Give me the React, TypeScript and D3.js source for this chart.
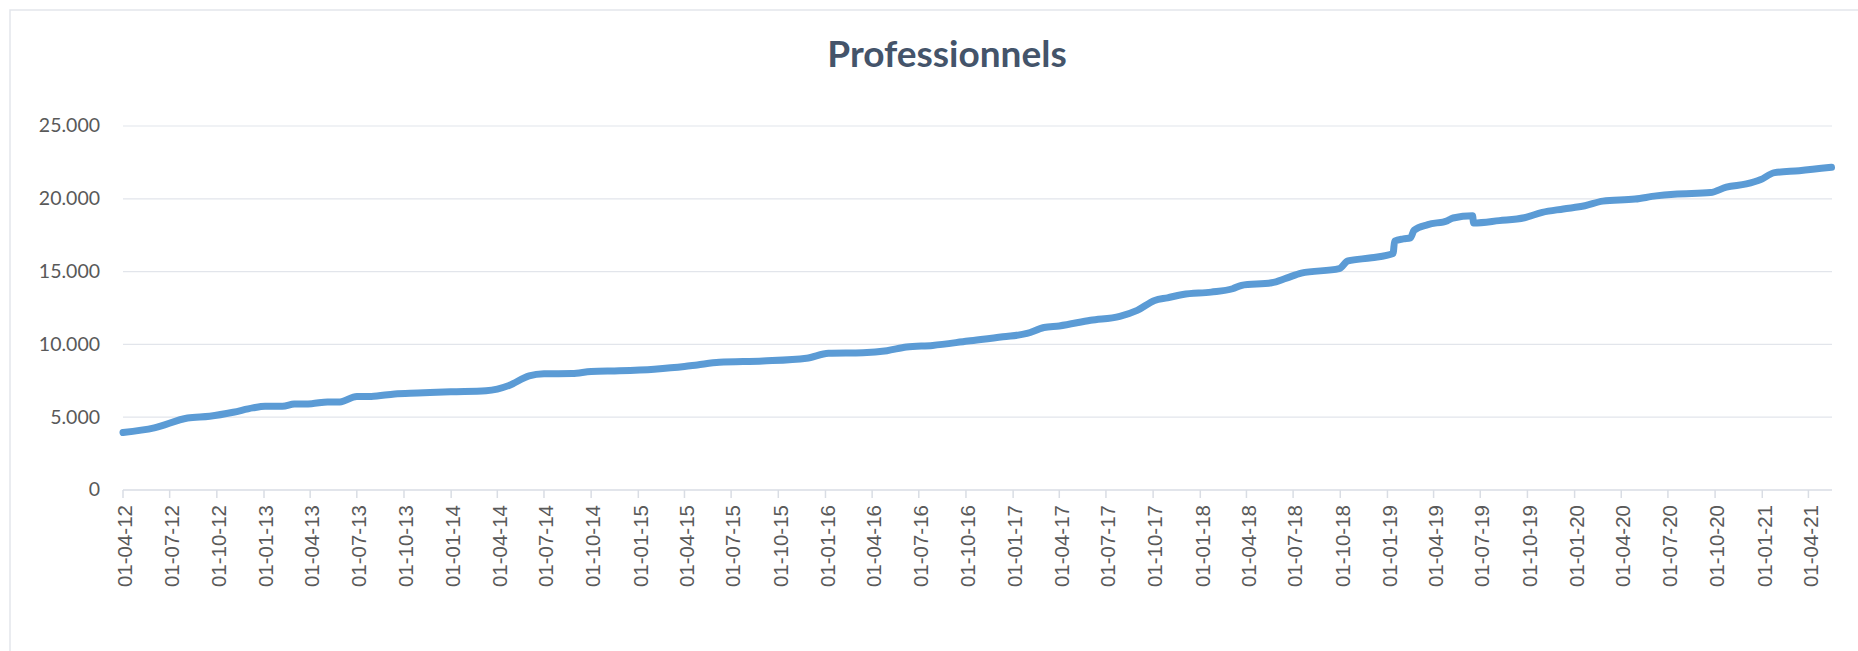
import * as d3 from 'd3';

const TITLE = 'Professionnels';

// dates (dd-mm-yy axis, daily series)
const dates = [
  '2012-04-01', '2012-06-01', '2012-08-05', '2012-09-17', '2012-11-02', '2012-12-10',
  '2013-01-03', '2013-02-06', '2013-03-01', '2013-04-04', '2013-05-05', '2013-05-29',
  '2013-07-01', '2013-07-29', '2013-09-13', '2013-10-28', '2013-12-31', '2014-03-10',
  '2014-04-01', '2014-04-24', '2014-06-02', '2014-07-01', '2014-08-25', '2014-10-01',
  '2014-11-25', '2015-02-01', '2015-04-01', '2015-04-26', '2015-06-08', '2015-09-01',
  '2015-11-25', '2016-01-07', '2016-03-14', '2016-04-30', '2016-06-07', '2016-07-28',
  '2016-10-05', '2016-12-12', '2017-01-28', '2017-03-02', '2017-04-01', '2017-06-01',
  '2017-07-28', '2017-08-31', '2017-10-04', '2017-10-29', '2017-11-28', '2018-01-22',
  '2018-03-05', '2018-03-22', '2018-05-20', '2018-06-18', '2018-07-17', '2018-09-29',
  '2018-10-16', '2018-12-01', '2019-01-12', '2019-01-15', '2019-02-01', '2019-02-15',
  '2019-02-22', '2019-03-21', '2019-04-28', '2019-05-09', '2019-06-16', '2019-06-18',
  '2019-08-07', '2019-09-25', '2019-10-30', '2019-12-10', '2020-01-21', '2020-02-25',
  '2020-04-28', '2020-06-08', '2020-07-13', '2020-09-22', '2020-10-23', '2020-12-01',
  '2020-12-28', '2021-01-25', '2021-03-14', '2021-05-16',
];

const values = [
  3950, 4270, 4950, 5070, 5340, 5640,
  5750, 5750, 5900, 5930, 6050, 6050,
  6430, 6430, 6600, 6660, 6750, 6820,
  6930, 7180, 7840, 7980, 8000, 8140,
  8190, 8300, 8480, 8590, 8770, 8860,
  9050, 9390, 9430, 9570, 9820, 9930,
  10230, 10520, 10750, 11160, 11270, 11660,
  11930, 12340, 13020, 13200, 13430, 13590,
  13820, 14050, 14230, 14550, 14900, 15200,
  15730, 15950, 16250, 17100, 17250, 17320,
  17840, 18230, 18500, 18680, 18840, 18340,
  18500, 18700, 19070, 19300, 19520, 19840,
  19980, 20200, 20320, 20430, 20800, 21020,
  21300, 21800, 21930, 22160,
];

const yTicks = [0, 5000, 10000, 15000, 20000, 25000];
const xStart = '2012-04-01';
const xEnd = '2021-05-17';

const W = 1858;
const H = 651;
const plot = { left: 123, right: 1832, top: 126, bottom: 490 };

const parse = d3.utcParse('%Y-%m-%d');
const fmtDate = d3.utcFormat('%d-%m-%y');
const fmtNum = (v: number) => (v === 0 ? '0' : d3.format(',')(v).replace(/,/g, '.'));

export default function App() {
  const x = d3.scaleUtc().domain([parse(xStart)!, parse(xEnd)!]).range([plot.left, plot.right]);
  const y = d3.scaleLinear().domain([0, 25000]).range([plot.bottom, plot.top]);

  const xTicks = d3.utcMonth.every(3)!.range(parse(xStart)!, parse('2021-04-02')!);

  const pts = dates.map((d, i) => ({ date: parse(d)!, value: values[i] }));
  const line = d3.line<{ date: Date; value: number }>()
    .x((d) => x(d.date))
    .y((d) => y(d.value))
    .curve(d3.curveMonotoneX);

  return (
    <svg width={W} height={H} style={{ position: 'absolute', left: 0, top: 0, background: '#fff' }}>
      <rect x={10} y={10} width={1900} height={700} fill="#fff" stroke="#e3e6ec" strokeWidth={1.5} />
      <text x={947} y={67} textAnchor="middle" fontFamily="Lato, 'Open Sans', sans-serif"
        fontWeight={700} fontSize={37} fill="#44546a">{TITLE}</text>

      {yTicks.filter((t) => t > 0).map((t) => (
        <line key={t} x1={plot.left} x2={plot.right} y1={y(t)} y2={y(t)} stroke="#e2e5eb" strokeWidth={1.2} />
      ))}
      {yTicks.map((t) => (
        <text key={t} x={100} y={y(t)} dy="0.33em" textAnchor="end" fontFamily="Lato, sans-serif"
          fontSize={19.5} fill="#595959">{fmtNum(t)}</text>
      ))}

      <line x1={plot.left} x2={plot.right} y1={plot.bottom} y2={plot.bottom} stroke="#d9dde4" strokeWidth={1.5} />
      {xTicks.map((d) => {
        const tx = x(d);
        return (
          <g key={d.toISOString()}>
            <line x1={tx} x2={tx} y1={plot.bottom} y2={plot.bottom + 8} stroke="#d9dde4" strokeWidth={1.5} />
            <text transform={`translate(${tx},505) rotate(-90)`} dy="0.45em" textAnchor="end"
              fontFamily="'Liberation Sans', Arial, sans-serif" fontSize={20.5} fill="#595959">{fmtDate(d)}</text>
          </g>
        );
      })}

      <path d={line(pts) ?? ''} fill="none" stroke="#5b9bd5" strokeWidth={7} strokeLinejoin="round" strokeLinecap="round" />
    </svg>
  );
}
